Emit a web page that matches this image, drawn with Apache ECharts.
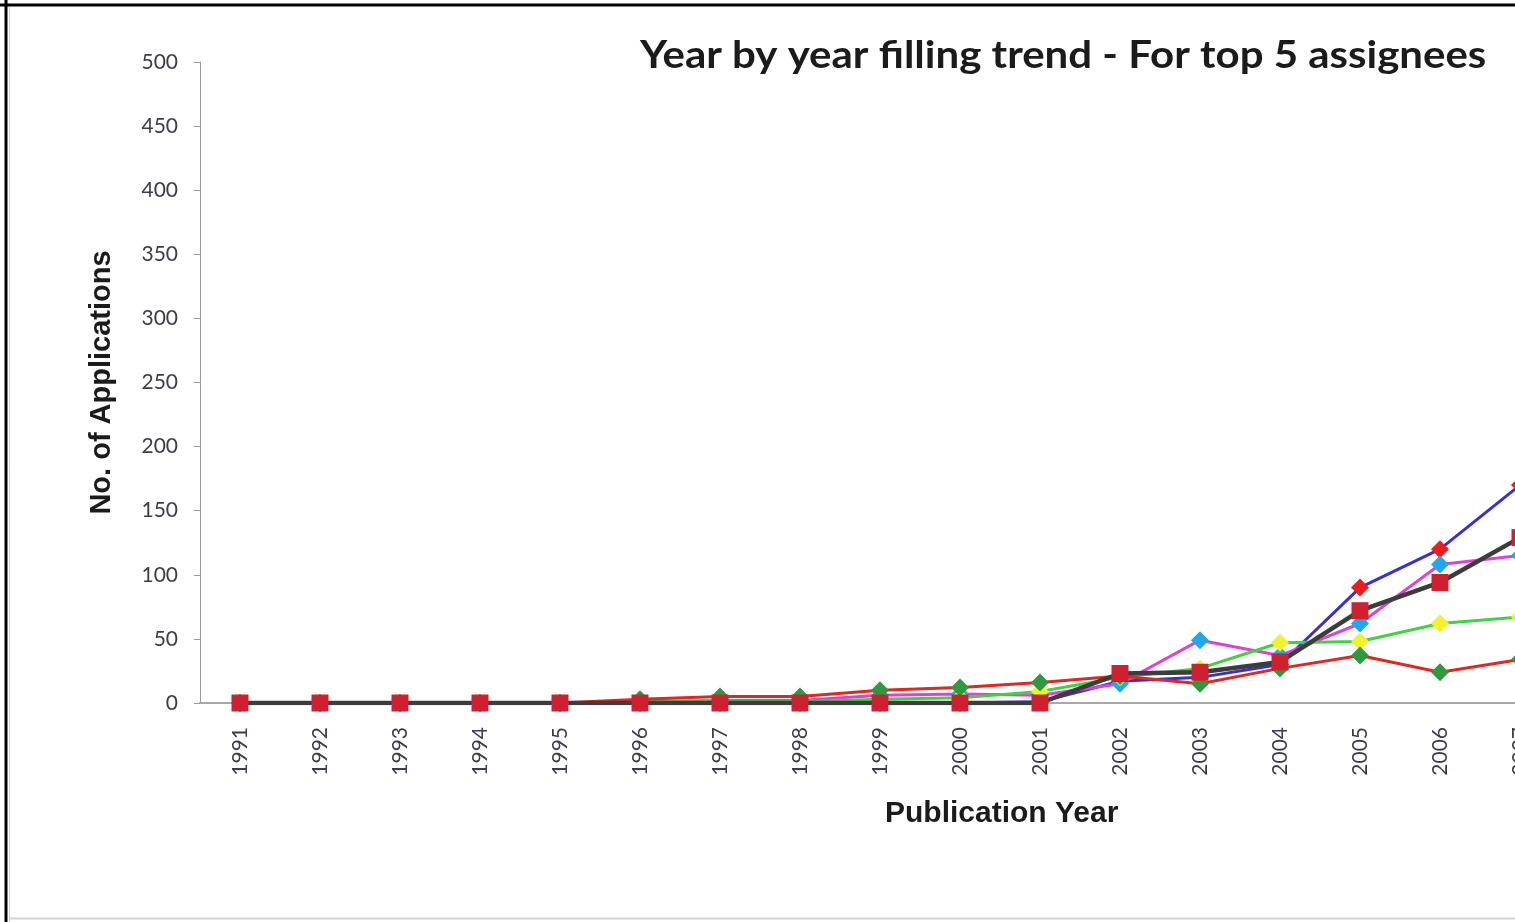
<!DOCTYPE html>
<html>
<head>
<meta charset="utf-8">
<script src="https://cdn.jsdelivr.net/npm/echarts@6/dist/echarts.min.js"></script>
<style>
  html, body { margin: 0; padding: 0; background: #fff; overflow: hidden; }
  #wrap { position: relative; width: 1515px; height: 922px; overflow: hidden; }
  #chart { position: absolute; left: 0; top: 0; width: 1640px; height: 922px; }
</style>
</head>
<body>
<div id="wrap"><div id="chart"></div></div>
<script>
// Publication years on the category axis
const years = ['1991','1992','1993','1994','1995','1996','1997','1998','1999',
               '2000','2001','2002','2003','2004','2005','2006','2007'];

// Applications per year for each of the five assignees
const assigneeA = [0,0,0,0,0,0,0,0,0,0,1,17,20,30,90,120,170];
const assigneeB = [0,0,0,0,0,1,2,2,6,7,6,15,49,37,62,108,115];
const assigneeC = [0,0,0,0,0,0,0,0,0,0,0,23,24,32,72,94,129];
const assigneeD = [0,0,0,0,0,1,1,1,3,4,9,20,27,47,48,62,67];
const assigneeE = [0,0,0,0,0,3,5,5,10,12,16,21,15,27,37,24,34];

const yTicks = { min: 0, max: 500, step: 50 };

const chart = echarts.init(document.getElementById('chart'), null, { renderer: 'canvas' });

function lineSeries(name, data, lineColor, lineWidth, symbol, symbolSize, markColor, z) {
  return {
    name: name,
    type: 'line',
    data: data,
    z: z,
    symbol: symbol,
    symbolSize: symbolSize,
    showAllSymbol: true,
    lineStyle: { color: lineColor, width: lineWidth },
    itemStyle: { color: markColor, borderColor: markColor, borderWidth: 0 },
    emphasis: { disabled: true },
    animation: false
  };
}

chart.setOption({
  backgroundColor: '#ffffff',
  animation: false,
  grid: { left: 200, top: 62, width: 1360, bottom: 219, containLabel: false },
  xAxis: {
    type: 'category',
    data: years,
    boundaryGap: true,
    axisLine: { show: true, lineStyle: { color: '#a8a8a8', width: 2 } },
    axisTick: { show: false },
    axisLabel: {
      rotate: 90,
      margin: 24,
      fontFamily: 'Lato',
      fontSize: 21,
      color: '#3c3c4c'
    },
    splitLine: { show: false }
  },
  yAxis: {
    type: 'value',
    min: yTicks.min,
    max: yTicks.max,
    interval: yTicks.step,
    name: 'No. of Applications',
    nameLocation: 'middle',
    nameRotate: 90,
    nameGap: 84,
    nameTextStyle: { fontFamily: 'Liberation Sans', fontWeight: 'bold', fontSize: 29, color: '#1b1b1b' },
    axisLine: { show: true, lineStyle: { color: '#9a9a9a', width: 1 } },
    axisTick: { show: true, inside: false, length: 6, lineStyle: { color: '#9a9a9a' } },
    axisLabel: {
      margin: 22,
      fontFamily: 'Lato',
      fontSize: 21,
      color: '#3c3c4c'
    },
    splitLine: { show: false }
  },
  graphic: [
    // chart title, slightly widened lettering
    {
      type: 'text',
      x: 640,
      y: 37,
      scaleX: 1.105,
      style: {
        text: 'Year by year filling trend - For top 5 assignees',
        fontFamily: 'Lato',
        fontWeight: 'bold',
        fontSize: 38,
        fill: '#1b1b1b'
      }
    },
    {
      type: 'text',
      left: 885,
      top: 799,
      style: {
        text: 'Publication Year',
        fontFamily: 'Liberation Sans',
        fontWeight: 'bold',
        fontSize: 30,
        fill: '#1b1b1b'
      }
    },
    // outer frame
    { type: 'line', shape: { x1: 6, y1: 0, x2: 6, y2: 922 }, style: { stroke: '#000', lineWidth: 3 } },
    { type: 'line', shape: { x1: 0, y1: 5, x2: 1640, y2: 5 }, style: { stroke: '#000', lineWidth: 3 } },
    { type: 'line', shape: { x1: 9.5, y1: 7, x2: 9.5, y2: 922 }, style: { stroke: '#c9d0d0', lineWidth: 1 } },
    { type: 'line', shape: { x1: 9, y1: 918.5, x2: 1640, y2: 918.5 }, style: { stroke: '#cfd5d5', lineWidth: 2 } }
  ],
  series: [
    lineSeries('Assignee A', assigneeA, '#3a2ed6', 3, 'diamond', 18, '#ee1c1c', 2),
    lineSeries('Assignee B', assigneeB, '#e040d8', 3, 'diamond', 18, '#1ea8ee', 3),
    lineSeries('Assignee D', assigneeD, '#3fd43f', 3, 'diamond', 18, '#f2f22a', 4),
    lineSeries('Assignee E', assigneeE, '#e3261f', 3, 'diamond', 18, '#2e9a3e', 5),
    lineSeries('Assignee C', assigneeC, '#3c3c3c', 4.5, 'rect', 17, '#cf2030', 6)
  ]
});
</script>
</body>
</html>
